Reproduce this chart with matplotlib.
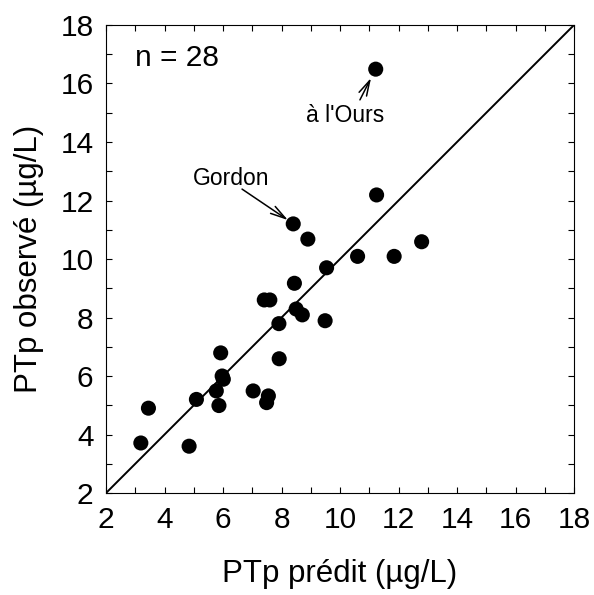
import numpy as np
import matplotlib
matplotlib.use("Agg")
import matplotlib.pyplot as plt
from matplotlib.ticker import MultipleLocator

plt.rcParams["font.family"] = ["Liberation Sans", "DejaVu Sans"]

# predicted (x) vs observed (y) particulate P, ug/L
ptp_predit = [3.19, 3.45, 4.84, 5.09, 5.77, 5.86, 5.92, 5.97, 6.01, 7.03,
              7.49, 7.55, 7.41, 7.60, 7.91, 7.92, 8.44, 8.50, 8.71, 9.49,
              8.40, 8.90, 11.25, 9.54, 10.60, 11.85, 12.79, 11.22]
ptp_observe = [3.71, 4.90, 3.60, 5.20, 5.49, 4.99, 6.79, 6.00, 5.89, 5.49,
               5.09, 5.32, 8.60, 8.60, 7.79, 6.59, 9.17, 8.29, 8.09, 7.89,
               11.20, 10.68, 12.19, 9.70, 10.09, 10.09, 10.59, 16.49]
ticks = np.arange(2, 19, 2)

fig = plt.figure(figsize=(5.94, 5.95), dpi=100)
ax = fig.add_axes([0.1785, 0.1714, 0.7879, 0.7866])

ax.plot([2, 18], [2, 18], color="black", lw=1.4, zorder=1)
ax.scatter(ptp_predit, ptp_observe, s=118, color="black", edgecolors="none", zorder=2)

ax.set_xlim(2, 18)
ax.set_ylim(2, 18)
ax.set_xticks(ticks)
ax.set_yticks(ticks)
ax.xaxis.set_minor_locator(MultipleLocator(1))
ax.yaxis.set_minor_locator(MultipleLocator(1))
ax.tick_params(which="both", direction="in", top=True, right=True,
               length=4.5, width=0.8, labelsize=21.5, pad=9)
for s in ax.spines.values():
    s.set_linewidth(0.8)

ax.set_xlabel("PTp prédit (µg/L)", fontsize=22.5, labelpad=18)
ax.set_ylabel("PTp observé (µg/L)", fontsize=22.5, labelpad=12)

ax.text(3.0, 16.6, "n = 28", fontsize=21.5, ha="left", va="baseline")

head = "->,head_length=1.1,head_width=0.3"
ax.text(4.97, 12.53, "Gordon", fontsize=16.5, ha="left", va="baseline")
ax.annotate("", xy=(8.22, 11.33), xytext=(6.65, 12.39),
            arrowprops=dict(arrowstyle=head, color="black", lw=1.1,
                            shrinkA=0, shrinkB=0))
ax.text(10.17, 14.68, "à l'Ours", fontsize=16.5, ha="center", va="baseline")
ax.annotate("", xy=(11.06, 16.19), xytext=(10.68, 15.44),
            arrowprops=dict(arrowstyle=head, color="black", lw=1.1,
                            shrinkA=0, shrinkB=0))

fig.savefig("out.png", dpi=100)
